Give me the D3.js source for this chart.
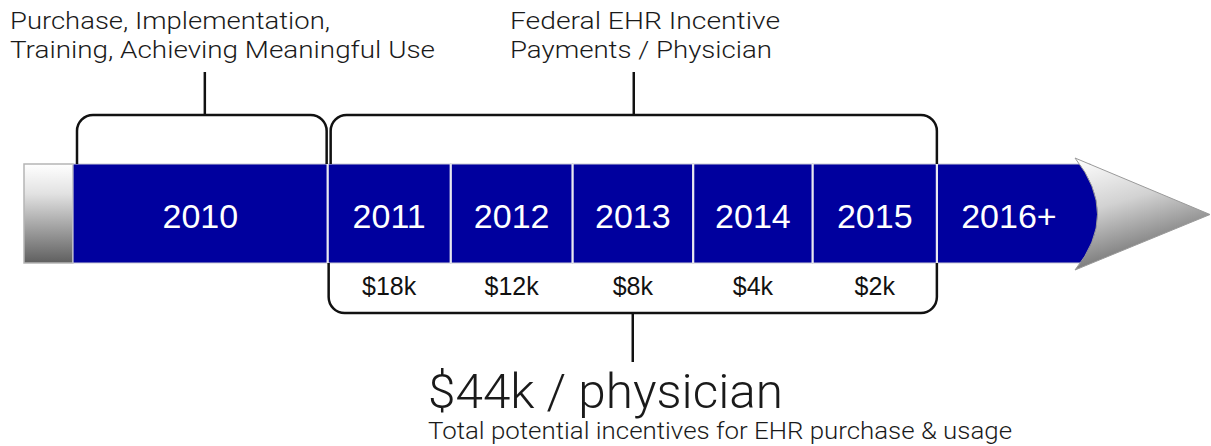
<!DOCTYPE html>
<html>
<head>
<meta charset="utf-8">
<script src="https://cdnjs.cloudflare.com/ajax/libs/d3/7.8.5/d3.min.js"></script>
<style>
  body { margin: 0; background: #fff; }
  .note { font-family: Roboto, "Liberation Sans", sans-serif; font-weight: 300; fill: #1a1a1a; }
  .year { font-family: "Liberation Sans", Arial, sans-serif; fill: #fff; }
  .pay { font-family: "Liberation Sans", Arial, sans-serif; fill: #111; }
</style>
</head>
<body>
<div id="chart"></div>
<script>
// timeline periods and their relative lengths
var years = ["2010", "2011", "2012", "2013", "2014", "2015", "2016+"];
var spans = [2.09, 1.01, 1, 0.99, 0.98, 1.02, 1.15];
// incentive payment per physician (k$), for 2011-2015
var payYears = ["2011", "2012", "2013", "2014", "2015"];
var payments = [18, 12, 8, 4, 2];
var total = 44;

var noteLabels = [
  ["Purchase, Implementation,", "Training, Achieving Meaningful Use"],
  ["Federal EHR Incentive", "Payments / Physician"]
];
var noteFrom = ["2010", "2011"];
var noteTo = ["2010", "2015"];
var subtitle = "Total potential incentives for EHR purchase & usage";

// layout
var width = 1211, height = 446;
var barTop = 164, barBottom = 263;
var noteX = [10, 510];
var noteWidths = [[320, 425], [270, 262]];

var svg = d3.select("#chart").append("svg")
    .attr("width", width)
    .attr("height", height);

var defs = svg.append("defs");
var g1 = defs.append("linearGradient").attr("id", "cyl")
    .attr("x1", 0).attr("y1", 0).attr("x2", 0).attr("y2", 1);
g1.append("stop").attr("offset", "0").attr("stop-color", "#ffffff");
g1.append("stop").attr("offset", "0.3").attr("stop-color", "#e2e2e2");
g1.append("stop").attr("offset", "1").attr("stop-color", "#5f5f5f");

var g2 = defs.append("linearGradient").attr("id", "head")
    .attr("x1", 0).attr("y1", 0).attr("x2", 0.35).attr("y2", 1);
g2.append("stop").attr("offset", "0").attr("stop-color", "#ffffff");
g2.append("stop").attr("offset", "0.45").attr("stop-color", "#d2d2d2");
g2.append("stop").attr("offset", "1").attr("stop-color", "#6a6a6a");

// cumulative positions
var starts = [];
var acc = 0;
spans.forEach(function(s){ starts.push(acc); acc += s; });

var x = d3.scaleLinear()
    .domain([0, acc])
    .range([73, 1077]);

function x0(yr){ var i = years.indexOf(yr); return x(starts[i]); }
function x1(yr){ var i = years.indexOf(yr); return x(starts[i] + spans[i]); }
function xc(yr){ return (x0(yr) + x1(yr)) / 2; }

// gray end cap on the left
svg.append("rect")
    .attr("x", 24)
    .attr("y", barTop)
    .attr("width", x(0) - 24)
    .attr("height", barBottom - barTop)
    .attr("fill", "url(#cyl)")
    .attr("stroke", "#b5b5b5")
    .attr("stroke-width", 1.5);

// blue boxes
var boxes = years.map(function(yr, i){
  return {year: yr, a: x(starts[i]), b: x(starts[i] + spans[i]), last: i == years.length - 1};
});

var mid = (barTop + barBottom) / 2;
var xEnd = x(acc);

svg.selectAll(".box")
    .data(boxes)
  .enter().append("path")
    .attr("class", "box")
    .attr("d", function(d){
      if (!d.last) {
        return "M" + d.a + "," + barTop + "H" + d.b + "V" + barBottom + "H" + d.a + "Z";
      }
      return "M" + d.a + "," + barTop + "H" + (xEnd + 13) + "L" + (xEnd + 33) + "," + mid +
             "L" + (xEnd + 13) + "," + barBottom + "H" + d.a + "Z";
    })
    .attr("fill", "#00009e")
    .attr("stroke", "#c9c9d6")
    .attr("stroke-width", 1.2);

// white dividers
svg.selectAll(".div")
    .data(boxes.slice(1))
  .enter().append("line")
    .attr("x1", function(d){ return d.a; })
    .attr("x2", function(d){ return d.a; })
    .attr("y1", barTop)
    .attr("y2", barBottom)
    .attr("stroke", "#e8e8f0")
    .attr("stroke-width", 2.2);

// arrow head
svg.append("path")
    .attr("d", "M" + (xEnd - 2) + "," + (barTop - 6) +
               "L" + (width - 1) + "," + (mid + 1) +
               "L" + (xEnd - 2) + "," + (barBottom + 7) +
               "Q" + (xEnd + 43) + "," + (mid + 1) + " " + (xEnd - 2) + "," + (barTop - 6) + "Z")
    .attr("fill", "url(#head)")
    .attr("stroke", "#9a9a9a")
    .attr("stroke-width", 1);

// year labels
svg.selectAll(".year")
    .data(boxes)
  .enter().append("text")
    .attr("class", "year")
    .attr("x", function(d){ return (d.a + d.b) / 2 + (d.last ? 2 : 0); })
    .attr("y", 228)
    .attr("text-anchor", "middle")
    .attr("font-size", 34)
    .text(function(d){ return d.year; });

// payments under each year
svg.selectAll(".pay")
    .data(payments)
  .enter().append("text")
    .attr("class", "pay")
    .attr("x", function(d, i){ return xc(payYears[i]); })
    .attr("y", 295)
    .attr("text-anchor", "middle")
    .attr("font-size", 25)
    .text(function(d){ return "$" + d + "k"; });

// brackets
var r = 16;
function topBracket(a, b, yTop){
  return "M" + a + "," + barTop + "V" + (yTop + r) +
         "A" + r + "," + r + " 0 0 1 " + (a + r) + "," + yTop +
         "H" + (b - r) +
         "A" + r + "," + r + " 0 0 1 " + b + "," + (yTop + r) +
         "V" + barTop;
}
function bottomBracket(a, b, yBot){
  return "M" + a + "," + barBottom + "V" + (yBot - r) +
         "A" + r + "," + r + " 0 0 0 " + (a + r) + "," + yBot +
         "H" + (b - r) +
         "A" + r + "," + r + " 0 0 0 " + b + "," + (yBot - r) +
         "V" + barBottom;
}

noteLabels.forEach(function(lines, i){
  var a = x0(noteFrom[i]) + (i == 0 ? 4 : 3);
  var b = x1(noteTo[i]) - (i == 0 ? 1 : 0);
  svg.append("path")
      .attr("d", topBracket(a, b, 115))
      .attr("fill", "none")
      .attr("stroke", "#111")
      .attr("stroke-width", 2.5);
  var m = (a + b) / 2 + (i == 0 ? 3 : 0);
  svg.append("line")
      .attr("x1", m).attr("x2", m)
      .attr("y1", 72).attr("y2", 115)
      .attr("stroke", "#111")
      .attr("stroke-width", 2.5);
  lines.forEach(function(line, j){
    svg.append("text")
        .attr("class", "note")
        .attr("x", noteX[i])
        .attr("y", 29 + j * 29)
        .attr("font-size", 23)
        .attr("textLength", noteWidths[i][j])
        .attr("lengthAdjust", "spacingAndGlyphs")
        .text(line);
  });
});

var ba = x0(payYears[0]) + 1, bb = x1(payYears[payYears.length - 1]);
svg.append("path")
    .attr("d", bottomBracket(ba, bb, 313))
    .attr("fill", "none")
    .attr("stroke", "#111")
    .attr("stroke-width", 2.5);
var bm = (ba + bb) / 2;
svg.append("line")
    .attr("x1", bm).attr("x2", bm)
    .attr("y1", 313).attr("y2", 362)
    .attr("stroke", "#111")
    .attr("stroke-width", 2.5);

svg.append("text")
    .attr("class", "note")
    .attr("x", 428)
    .attr("y", 408)
    .attr("font-size", 49)
    .attr("textLength", 355)
    .attr("lengthAdjust", "spacingAndGlyphs")
    .text("$" + total + "k / physician");

svg.append("text")
    .attr("class", "note")
    .attr("x", 428)
    .attr("y", 439)
    .attr("font-size", 24)
    .attr("textLength", 584)
    .attr("lengthAdjust", "spacingAndGlyphs")
    .text(subtitle);
</script>
</body>
</html>
